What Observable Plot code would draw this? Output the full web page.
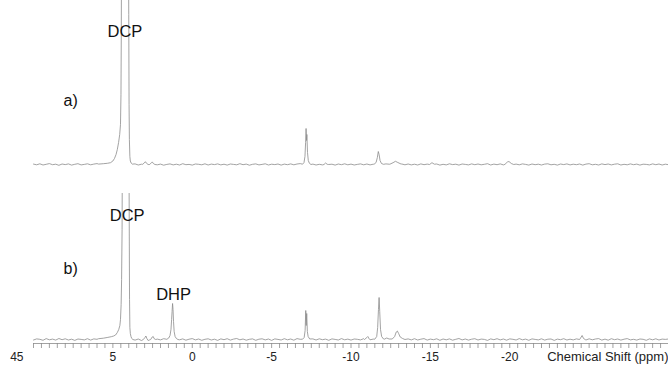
<!DOCTYPE html>
<html>
<head>
<meta charset="utf-8">
<script src="https://cdn.jsdelivr.net/npm/d3@7"></script>
<script src="https://cdn.jsdelivr.net/npm/@observablehq/plot@0.6"></script>
<style>
  html, body { margin: 0; padding: 0; background: #fff; }
  #chart { width: 668px; height: 365px; overflow: hidden; position: relative; }
  #chart svg { display: block; }
</style>
</head>
<body>
<div id="chart"></div>
<script>
// ---- Data (chemical shift in ppm, intensity in arbitrary units) ----
const tickLabels = [5, 0, -5, -10, -15, -20];
const axisLabel = "Chemical Shift (ppm)";
const cornerLabel = "45";

// baseline sampling positions (ppm), 10 → -30
const shiftGrid = d3.range(0, 201).map(i => Math.round((10 - i * 0.2) * 10) / 10);

// spectrum a) baseline noise
const noiseA = [
  0.4,-0.3,0.7,-0.5,0.2,0.9,-0.2,0.3,-0.8,0.5,
  -0.1,0.6,-0.6,0.2,0.8,-0.4,0.1,0.7,-0.3,0.4,
  0.9,0.2,0.6,1.0,1.3,1.8,0,0,0,0,
  0,0,0.6,-0.5,0.3,-0.2,0.5,-0.6,0.2,-0.3,
  0.4,-0.7,0.1,0.6,-0.4,0.3,-0.5,0.8,-0.2,0.1,
  -0.6,0.5,0.2,-0.3,0.7,-0.5,0.4,-0.1,0.6,-0.4,
  0.3,-0.6,0.5,0.1,-0.3,0.8,-0.2,0.4,-0.7,0.2,
  0.6,-0.4,0.1,0.7,-0.5,0.3,-0.1,0.5,-0.6,0.4,
  -0.2,0.6,-0.3,0.5,0.9,0,0,0,0.4,-0.5,
  0.2,-0.4,0.6,0,0.3,-0.6,0.5,-0.2,0.7,-0.3,
  0.4,-0.5,0.1,0.6,-0.3,0.5,-0.4,0.3,0,0,
  0,0.6,0.3,0,0,0,0.5,-0.3,0.5,-0.4,
  0.3,-0.5,0.6,-0.2,0.4,0,0,0.5,-0.6,0.2,
  -0.4,0.7,-0.1,0.3,-0.6,0.5,0.1,-0.4,0.6,-0.2,
  0.5,-0.3,0.2,0.8,-0.5,0.4,-0.2,0.6,-0.4,0,
  0,-0.5,0.4,-0.3,0.6,0.1,-0.6,0.5,-0.2,0.3,
  -0.5,0.4,0.7,-0.3,0.2,-0.6,0.5,-0.1,0.6,-0.4,
  0.3,-0.2,0.5,-0.6,0.4,0.8,-0.3,0.2,-0.5,0.6,
  -0.1,0.5,-0.4,0.3,0.7,-0.5,0.2,-0.3,0.6,-0.2,
  0.4,-0.6,0.3,0.1,-0.4,0.6,-0.2,0.5,-0.5,0.3,
  -0.2
];

// spectrum a) peaks: [shift, intensity] points
const peaksA = [
  [[5.9,0.4],[5.6,0.8],[5.35,1.2],[5.15,1.8],[5.0,3.5],[4.9,6],[4.8,10],[4.72,15],[4.64,22],[4.57,30],[4.52,40],[4.49,70],[4.47,130],[4.44,300],[4.27,1500],[4.03,300],[4.0,150],[3.98,60],[3.96,25],[3.93,8],[3.9,3.5],[3.85,1.5],[3.78,0.4]],
  [[3.15,0],[3.02,1.5],[2.95,2.8],[2.88,1.2],[2.78,0]],
  [[2.68,0],[2.57,1.8],[2.52,2.6],[2.45,1],[2.35,0]],
  [[-6.95,0.3],[-7.04,2],[-7.1,8],[-7.14,22],[-7.17,36],[-7.2,24],[-7.22,30],[-7.26,12],[-7.31,4],[-7.38,1.2],[-7.48,0]],
  [[-8.3,0],[-8.4,1.5],[-8.5,0.2]],
  [[-11.45,0.2],[-11.58,2],[-11.66,7],[-11.72,13],[-11.77,10],[-11.83,4],[-11.92,1],[-12.05,0.2]],
  [[-12.45,0.3],[-12.65,1.8],[-12.8,3.2],[-12.95,2],[-13.15,0.5]],
  [[-14.95,0],[-15.1,1.8],[-15.25,0.3]],
  [[-19.7,0.2],[-19.85,2.5],[-19.95,3],[-20.1,1],[-20.25,0]]
];

// spectrum b) baseline noise
const noiseB = [
  -0.5,0.6,0.2,-0.8,0.9,-0.3,0.4,-0.6,1.0,-0.2,
  0.7,-0.5,0.3,-0.9,0.5,0.1,-0.4,0.8,-0.6,0.6,
  0.2,0.9,0.5,1.2,0.8,1.5,0,0,0,0,
  0,0,-0.6,0.5,-1.0,0,0,0,0,0.4,
  -0.4,0.8,0,0,0,0,-0.3,0.6,-0.7,0.3,
  0.9,-0.4,0.5,-0.8,0.2,0.7,-0.5,0.3,-0.9,0.6,
  -0.2,0.8,-0.6,0.4,1.0,-0.3,0.5,-0.7,0.2,0.6,
  -0.8,0.3,0.7,-0.4,0.5,-0.9,0.6,0.1,-0.5,0.8,
  -0.3,0.5,-0.7,0.9,0.2,0,0,0,0.6,-0.5,
  0.7,-0.2,0.4,-0.8,0.6,0.1,-0.5,0.9,-0.3,0.4,
  -0.6,0.5,0.2,-0.4,0.8,0,-0.3,0.4,0,0,
  0,0,0,0,0,0,0,0,0.6,-0.4,
  0.8,-0.5,0.3,0.9,-0.6,0.4,-0.2,0.7,-0.8,0.5,
  -0.3,0.6,-0.7,0.2,1.0,-0.4,0.5,-0.6,0.3,0.8,
  -0.5,0.4,0.1,-0.9,0.6,-0.2,0.8,-0.4,0.5,-0.7,
  0.6,0.2,-0.5,0.9,-0.3,0.4,-0.8,0.6,0.1,-0.4,
  0.7,-0.6,0.3,0.5,-0.9,0.4,-0.2,0.8,-0.5,0.3,
  -0.4,0.6,0,0,-0.5,0.7,-0.3,0.5,0.9,-0.6,
  0.4,-0.7,0.8,-0.2,0.5,-0.6,0.3,0.9,-0.4,0.2,
  -0.6,0.5,0.2,-0.8,0.6,-0.3,0.7,-0.5,0.4,0.1,
  0.5
];

// spectrum b) peaks
const peaksB = [
  [[5.9,0.8],[5.6,1.3],[5.36,2],[5.1,2.8],[4.95,3.5],[4.83,4.5],[4.72,7],[4.63,10],[4.56,14],[4.52,20],[4.48,35],[4.45,60],[4.42,110],[4.39,250],[4.2,1500],[4.0,250],[3.97,120],[3.95,40],[3.93,12],[3.9,6],[3.86,3],[3.81,1],[3.74,0]],
  [[3.08,0],[2.98,2],[2.92,3.5],[2.86,1],[2.78,-1],[2.7,-0.5]],
  [[2.62,0],[2.52,2.5],[2.46,3],[2.4,0.8],[2.3,0]],
  [[1.6,0.2],[1.48,1.5],[1.4,4],[1.34,10],[1.3,20],[1.27,28],[1.24,36],[1.21,30],[1.18,18],[1.14,8],[1.08,3],[1.0,1],[0.9,0]],
  [[-6.95,0.3],[-7.05,2],[-7.11,9],[-7.15,29],[-7.18,14],[-7.21,26],[-7.25,8],[-7.3,3],[-7.4,0.5]],
  [[-10.85,0],[-11.0,2],[-11.06,3],[-11.15,0.5]],
  [[-11.5,0.3],[-11.62,3],[-11.68,12],[-11.73,30],[-11.77,42],[-11.81,28],[-11.86,10],[-11.93,3],[-12.05,0.5]],
  [[-12.1,0.3],[-12.25,1.5],[-12.4,0.5]],
  [[-12.6,0.5],[-12.75,3],[-12.85,7.5],[-12.92,8.5],[-13.0,6],[-13.1,2.5],[-13.25,1],[-13.4,0]],
  [[-24.4,0],[-24.5,2.5],[-24.56,4],[-24.65,1],[-24.75,0]]
];

// peak annotations
const labelsA = [{text: "DCP", shift: 4.27}];
const labelsB = [{text: "DCP", shift: 4.2}];
const dhp = [{text: "DHP", shift: 1.24, intensity: 36}];

// ---- Build line data ----
function build(noise, peaks) {
  const spans = peaks.map(p => [d3.min(p, d => d[0]), d3.max(p, d => d[0])]);
  const base = shiftGrid.map((s, i) => [s, noise[i] ?? 0])
    .filter(([s]) => !spans.some(([lo, hi]) => s >= lo - 1e-9 && s <= hi + 1e-9));
  return base.concat(peaks.flat())
    .sort((a, b) => b[0] - a[0])
    .map(([shift, intensity]) => ({shift, intensity}));
}
const dataA = build(noiseA, peaksA);
const dataB = build(noiseB, peaksB);

const font = "'Liberation Sans', Arial, sans-serif";
const lineStyle = {x: "shift", y: "intensity", stroke: "#8c8c8c", strokeWidth: 0.8, clip: true};
const xDomain = [10, -30];
const txt = {lineAnchor: "middle", fill: "#111"};

const plotA = Plot.plot({
  width: 668, height: 175,
  marginTop: 0, marginRight: 0, marginBottom: 0, marginLeft: 33,
  style: {fontFamily: font, background: "transparent", overflow: "visible"},
  x: {domain: xDomain, axis: null},
  y: {domain: [-11, 164], axis: null},
  marks: [
    Plot.line(dataA, lineStyle),
    Plot.text(labelsA, {...txt, x: "shift", text: "text", frameAnchor: "top", dy: 31, dx: 0.5, fontSize: 16.5}),
    Plot.text(["a)"], {...txt, frameAnchor: "top-left", dx: 30, dy: 100, fontSize: 16})
  ]
});

const plotB = Plot.plot({
  width: 668, height: 190,
  marginTop: 18, marginRight: 0, marginBottom: 22, marginLeft: 33,
  style: {fontFamily: font, background: "transparent", overflow: "visible", fontSize: "12px"},
  x: {domain: xDomain},
  y: {domain: [-4, 146], axis: null},
  marks: [
    Plot.line(dataB, lineStyle),
    Plot.frame({anchor: "bottom", stroke: "#8a8a8a", strokeWidth: 0.8}),
    Plot.axisX({ticks: d3.range(10, -30.001, -0.5), tickSize: 5, tickFormat: () => "", stroke: "#8a8a8a", strokeWidth: 0.8, label: null}),
    Plot.axisX({ticks: tickLabels, tickSize: 0, tickPadding: 9, tickFormat: d => String(d), fontSize: 12, fill: "#222", label: null}),
    Plot.text([axisLabel], {...txt, frameAnchor: "bottom-right", textAnchor: "end", dy: 13, fontSize: 13, fill: "#222"}),
    Plot.text([cornerLabel], {...txt, frameAnchor: "bottom-left", textAnchor: "end", dx: -10, dy: 14, fontSize: 12, fill: "#222"}),
    Plot.text(labelsB, {...txt, x: "shift", text: "text", frameAnchor: "top", dy: 22.7, dx: 1.6, fontSize: 16.5}),
    Plot.text(dhp, {...txt, x: "shift", y: "intensity", text: "text", dy: -9, dx: 1, fontSize: 16.5}),
    Plot.text(["b)"], {...txt, frameAnchor: "top-left", dx: 30, dy: 75, fontSize: 16})
  ]
});

const el = document.getElementById("chart");
el.append(plotA, plotB);
</script>
</body>
</html>
